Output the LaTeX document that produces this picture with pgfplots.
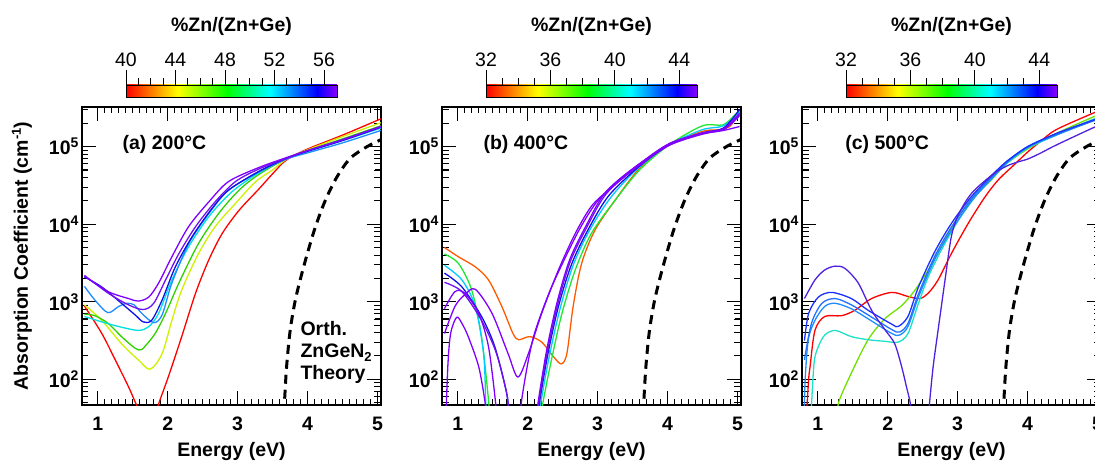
\documentclass[border=0pt]{standalone}
\usepackage{fontspec}
\setmainfont{Liberation Sans}
\usepackage{pgfplots}
\pgfplotsset{compat=1.18}
\newcommand\fs{\fontsize{19.5}{23}\selectfont}
\newcommand\ex[1]{\raisebox{7pt}{\fontsize{14}{14}\selectfont #1}}

\definecolor{cRed}{HTML}{FF0000}
\definecolor{cOrange}{HTML}{FF5A00}
\definecolor{cYellow}{HTML}{CFF000}
\definecolor{cGreen}{HTML}{30D000}
\definecolor{cGreenB}{HTML}{20E630}
\definecolor{cGreenC}{HTML}{70E000}
\definecolor{cCyan}{HTML}{00E0E0}
\definecolor{cCyanB}{HTML}{00CCFF}
\definecolor{cAqua}{HTML}{20E0C8}
\definecolor{cLBlue}{HTML}{1E8CFF}
\definecolor{cBlue}{HTML}{1010E8}
\definecolor{cBlueB}{HTML}{2070FF}
\definecolor{cBlueC}{HTML}{1A30FF}
\definecolor{cViolet}{HTML}{8000FF}
\definecolor{cVioletB}{HTML}{7010F0}
\definecolor{cIndigo}{HTML}{5020E0}

% rainbow used by the three colour bars
\pgfdeclarehorizontalshading{zn}{100bp}{rgb(0bp)=(1,0,0); rgb(25bp)=(1,0,0);
  rgb(37.25bp)=(1,1,0); rgb(49bp)=(0,1,0); rgb(59bp)=(0,1,1);
  rgb(70.25bp)=(0,0,1); rgb(75bp)=(0.55,0,1); rgb(100bp)=(0.55,0,1)}

\pgfplotsset{
  every semilogy axis/.append style={
    scale only axis, width=299pt, height=298pt, anchor=south west,
    xmin=0.775, xmax=5.05, ymin=46.6, ymax=3.25e5,
    xtick={1,2,3,4,5}, xticklabels={1,2,3,4,5}, minor x tick num=9,
    ytick={100,1000,10000,100000},
    yticklabels={10\ex{2},10\ex{3},10\ex{4},10\ex{5}},
    minor ytick={50,60,70,80,90,200,300,400,500,600,700,800,900,2000,3000,4000,5000,6000,7000,8000,9000,20000,30000,40000,50000,60000,70000,80000,90000,200000,300000},
    tick align=inside, major tick length=14pt, minor tick length=6.5pt,
    every tick/.style={black, line width=1.1pt},
    % tick marks on all four sides, drawn as short grid dashes at both ends
    xmajorgrids, ymajorgrids, xminorgrids, yminorgrids,
    major grid style={black, line width=1.1pt, dash pattern=on 14pt off 270.5pt on 14pt off 20pt},
    minor grid style={black, line width=0.9pt, dash pattern=on 6.5pt off 285.5pt on 6.5pt off 20pt},
    axis line style={line width=1.6pt},
    tick label style={font=\fs\bfseries},
    label style={font=\fs\bfseries},
    xticklabel style={anchor=base, yshift=-25pt},
    xlabel={Energy (eV)},
    xlabel style={at={(axis description cs:0.5,0)}, anchor=base, yshift=-51pt},
  },
  cbar/.style={
    scale only axis, width=211pt, height=12.7pt, anchor=south west,
    ymin=0, ymax=1, ytick=\empty,
    xtick pos=right, xticklabel pos=right,
    tick align=outside, major tick length=15pt, minor tick length=6.5pt,
    minor x tick num=3, axis on top,
    every tick/.style={black, line width=0.8pt},
    axis line style={line width=0.9pt},
    xticklabel style={font=\fs},
  },
  cv/.style={line width=1.3pt, smooth, mark=none, #1},
  theory/.style={black, line width=3pt, dash pattern=on 9pt off 6pt, smooth, mark=none},
}

\begin{document}
\begin{tikzpicture}

% ---------- (a) 200 C ----------
\begin{semilogyaxis}[at={(82pt,56pt)},
  ylabel={Absorption Coefficient (cm\raisebox{7pt}{\fontsize{13}{13}\selectfont -1})},
  ylabel style={at={(axis description cs:-0.2007,0.5)}, anchor=center}]
\addplot[cv=cRed] coordinates {(0.81,880)(1.058,390)(1.25,178)(1.44,80)(1.535,51)(1.59,40)};
\addplot[cv=cRed] coordinates {(1.84,38)(1.88,51)(2.01,108)(2.20,354)(2.40,1300)(2.59,3500)(2.78,7600)(3.02,15100)(3.3,28200)(3.5,44700)(3.7,67600)(4.0,93300)(4.5,141000)(5.05,229000)};
\addplot[cv=cYellow] coordinates {(0.81,912)(1.058,575)(1.34,288)(1.58,178)(1.75,135)(1.92,214)(2.06,575)(2.20,1410)(2.44,4170)(2.68,9330)(2.97,18600)(3.26,35500)(3.5,50100)(3.7,69200)(4.0,91200)(4.5,135000)(5.05,204000)};
\addplot[cv=cGreen] coordinates {(0.81,692)(0.96,661)(1.15,525)(1.34,355)(1.535,251)(1.62,240)(1.68,269)(1.82,389)(1.97,708)(2.16,1740)(2.44,5620)(2.73,13800)(3.02,27500)(3.3,43600)(3.7,70800)(4.0,89100)(4.5,126000)(5.05,186000)};
\addplot[cv=cCyan] coordinates {(0.81,646)(1.058,550)(1.30,479)(1.58,427)(1.73,479)(1.87,708)(2.06,1910)(2.30,5130)(2.59,12600)(2.92,26300)(3.3,45700)(3.7,70800)(4.0,87100)(4.5,120000)(5.05,174000)};
\addplot[cv=cLBlue] coordinates {(0.81,1580)(0.96,1050)(1.144,724)(1.30,871)(1.42,955)(1.52,912)(1.63,708)(1.80,537)(1.92,676)(2.06,1740)(2.30,5620)(2.59,13800)(2.87,27500)(3.3,46800)(3.7,69200)(4.0,83200)(4.5,112000)(5.05,162000)};
\addplot[cv=cBlue] coordinates {(0.81,2090)(1.058,1550)(1.34,955)(1.535,676)(1.65,550)(1.77,575)(1.92,1050)(2.11,2820)(2.35,6920)(2.63,15800)(2.87,27500)(3.3,47900)(3.7,70800)(4.0,87100)(4.5,120000)(5.05,178000)};
\addplot[cv=cVioletB] coordinates {(0.81,2190)(1.15,1290)(1.44,912)(1.65,794)(1.80,955)(1.97,1910)(2.16,4170)(2.40,9330)(2.68,19500)(2.97,35500)(3.3,51300)(3.7,70800)(4.0,89100)(4.5,123000)(5.05,182000)};
\addplot[cv=cViolet] coordinates {(0.81,2140)(1.15,1350)(1.44,1100)(1.58,1020)(1.73,1150)(1.87,1740)(2.06,3800)(2.30,9330)(2.59,19500)(2.87,35500)(3.3,53700)(3.7,72400)(4.0,89100)(4.5,123000)(5.05,182000)};
\addplot[theory] coordinates {(3.66,36)(3.67,51)(3.70,145)(3.75,417)(3.82,1000)(3.90,2000)(3.99,3980)(4.11,9120)(4.255,20400)(4.42,40700)(4.61,70800)(4.85,100000)(5.05,123000)};
\node[anchor=base west, font=\fs\bfseries] at (rel axis cs:0.124,0.856) {(a) 200°C};
\node[anchor=base west, font=\fs\bfseries] at (rel axis cs:0.719,0.232) {Orth.};
\node[anchor=base west, font=\fs\bfseries] at (rel axis cs:0.719,0.158) {ZnGeN\raisebox{-4pt}{\fontsize{13}{13}\selectfont 2}};
\node[anchor=base west, font=\fs\bfseries] at (rel axis cs:0.719,0.084) {Theory};
\end{semilogyaxis}

% ---------- (b) 400 C ----------
\begin{semilogyaxis}[at={(442pt,56pt)}]
\addplot[cv=cOrange] coordinates {(0.81,5010)(1.01,3800)(1.25,2820)(1.44,1910)(1.63,871)(1.79,389)(1.87,324)(2.03,355)(2.20,302)(2.37,195)(2.48,158)(2.56,214)(2.65,871)(2.77,3090)(2.96,8320)(3.25,20400)(3.6,52500)(4.03,107000)(4.5,158000)(4.75,166000)(4.9,186000)(5.03,282000)};
\addplot[cv=cGreenB] coordinates {(0.81,4120)(1.009,3130)(1.20,1410)(1.34,355)(1.44,54)(1.46,30)};
\addplot[cv=cGreenB] coordinates {(2.20,32)(2.22,51)(2.34,178)(2.49,708)(2.68,2570)(2.91,7590)(3.25,20400)(3.6,50100)(4.03,107000)(4.5,186000)(4.79,191000)(4.95,251000)(5.03,295000)};
\addplot[cv=cCyanB] coordinates {(0.81,2950)(1.06,1910)(1.25,871)(1.37,214)(1.40,51)(1.41,30)};
\addplot[cv=cCyanB] coordinates {(2.17,32)(2.19,51)(2.31,200)(2.46,794)(2.65,2950)(2.89,8510)(3.2,22900)(3.6,55000)(4.03,107000)(4.5,166000)(4.8,186000)(5.03,282000)};
\addplot[cv=cBlue] coordinates {(0.81,2340)(1.06,1550)(1.34,646)(1.53,263)(1.70,66)(1.73,35)};
\addplot[cv=cBlue] coordinates {(2.15,32)(2.17,51)(2.29,214)(2.44,871)(2.63,3090)(2.87,8710)(3.16,23400)(3.6,56200)(4.03,107000)(4.5,151000)(4.8,174000)(5.03,302000)};
\addplot[cv=cVioletB] coordinates {(0.81,1780)(1.06,1350)(1.34,575)(1.55,220)(1.70,66)(1.73,35)};
\addplot[cv=cVioletB] coordinates {(2.14,32)(2.16,51)(2.28,224)(2.43,933)(2.61,3310)(2.85,9330)(3.13,25100)(3.6,58900)(4.03,110000)(4.5,148000)(4.8,166000)(5.03,251000)};
\addplot[cv=cViolet] coordinates {(0.81,389)(0.96,871)(1.10,1230)(1.25,1450)(1.49,708)(1.72,214)(1.86,107)(2.01,214)(2.20,708)(2.44,2570)(2.68,7590)(2.91,17000)(3.15,27500)(3.3,37200)(3.6,60300)(4.03,105000)(4.5,145000)(4.8,162000)(5.03,182000)};
\addplot[cv=cViolet] coordinates {(0.81,813)(0.96,1350)(1.10,1290)(1.30,708)(1.44,263)(1.54,51)(1.555,30)};
\addplot[cv=cViolet] coordinates {(2.13,32)(2.15,51)(2.27,234)(2.42,977)(2.60,3470)(2.84,9770)(3.12,26300)(3.6,60300)(4.03,110000)(4.5,150000)(4.8,170000)(5.03,270000)};
\addplot[cv=cViolet] coordinates {(0.83,30)(0.86,158)(0.90,398)(0.985,631)(1.06,525)(1.15,355)(1.30,145)(1.39,51)(1.41,30)};
\addplot[cv=cViolet] coordinates {(1.90,32)(1.91,51)(2.0,158)(2.1,398)(2.3,1260)(2.5,3160)(2.75,8910)(3.0,20000)(3.3,35500)(3.6,57500)(4.03,105000)(4.5,150000)(4.8,168000)(5.03,260000)};
\addplot[theory] coordinates {(3.65,36)(3.66,51)(3.69,145)(3.74,417)(3.81,1000)(3.89,2000)(3.98,3980)(4.10,9120)(4.245,20400)(4.41,40700)(4.60,70800)(4.84,100000)(5.05,124000)};
\node[anchor=base west, font=\fs\bfseries] at (rel axis cs:0.127,0.856) {(b) 400°C};
\end{semilogyaxis}

% ---------- (c) 500 C ----------
\begin{semilogyaxis}[at={(802pt,56pt)}]
\addplot[cv=cRed] coordinates {(0.835,30)(0.87,100)(0.89,145)(0.96,427)(1.10,646)(1.34,661)(1.53,776)(1.77,1100)(2.06,1320)(2.29,1170)(2.46,1100)(2.58,1290)(2.72,1910)(2.91,4170)(3.15,10200)(3.39,22400)(3.58,37200)(3.8,57500)(4.0,85100)(4.2,120000)(4.41,166000)(4.93,269000)(5.05,295000)};
\addplot[cv=cGreenC] coordinates {(1.28,32)(1.30,51)(1.48,120)(1.72,324)(1.96,603)(2.20,891)(2.39,1410)(2.58,2570)(2.77,5130)(3.01,12600)(3.29,25100)(3.48,37200)(3.7,60300)(4.0,93300)(4.41,148000)(4.93,240000)(5.05,263000)};
\addplot[cv=cAqua] coordinates {(0.905,32)(0.913,51)(0.95,170)(1.008,263)(1.10,372)(1.25,427)(1.48,355)(1.72,324)(1.96,309)(2.15,302)(2.29,389)(2.44,955)(2.58,2090)(2.77,4680)(3.01,11200)(3.29,25100)(3.5,39800)(3.7,60300)(4.0,95500)(4.41,141000)(4.93,224000)(5.05,240000)};
\addplot[cv=cLBlue] coordinates {(0.805,32)(0.82,98)(0.865,324)(0.96,575)(1.10,871)(1.25,955)(1.48,813)(1.72,603)(2.06,389)(2.17,372)(2.29,479)(2.44,1150)(2.67,3470)(2.91,8320)(3.2,20000)(3.5,39800)(3.7,61700)(4.0,97700)(4.41,141000)(4.93,214000)(5.05,229000)};
\addplot[cv=cBlueB] coordinates {(0.81,178)(0.91,525)(1.06,955)(1.25,1100)(1.48,912)(1.72,676)(2.06,437)(2.17,407)(2.29,525)(2.44,1260)(2.67,3800)(2.91,9120)(3.2,21400)(3.5,41700)(3.7,63100)(4.0,100000)(4.41,145000)(4.93,214000)(5.05,229000)};
\addplot[cv=cBlueC] coordinates {(0.81,316)(0.87,708)(1.01,1150)(1.20,1320)(1.48,1100)(1.72,776)(2.06,513)(2.15,479)(2.29,646)(2.44,1550)(2.67,4370)(2.91,10200)(3.2,22900)(3.5,43700)(3.7,64600)(4.0,100000)(4.41,148000)(4.93,219000)(5.05,234000)};
\addplot[cv=cIndigo] coordinates {(0.81,1100)(0.96,1910)(1.10,2570)(1.25,2880)(1.39,2690)(1.58,1740)(1.77,776)(1.96,437)(2.10,288)(2.20,145)(2.27,79)(2.32,51)(2.34,35)};
\addplot[cv=cIndigo] coordinates {(2.585,32)(2.60,51)(2.65,145)(2.72,427)(2.82,1910)(2.91,6920)(3.01,13200)(3.2,25100)(3.5,43700)(3.7,56200)(3.85,63100)(4.0,69200)(4.17,81300)(4.41,105000)(4.93,174000)(5.05,191000)};
\addplot[theory] coordinates {(3.65,36)(3.66,51)(3.69,145)(3.74,417)(3.81,1000)(3.89,2000)(3.98,3980)(4.10,9120)(4.245,20400)(4.41,40700)(4.60,70800)(4.84,100000)(5.05,124000)};
\node[anchor=base west, font=\fs\bfseries] at (rel axis cs:0.133,0.856) {(c) 500°C};
\end{semilogyaxis}

% ---------- colour bars ----------
\begin{axis}[cbar, at={(126pt,363.3pt)}, xmin=40, xmax=57.05,
  xtick={40,44,48,52,56}, xticklabels={40,44,48,52,56}]
\shade[shading=zn] (rel axis cs:0,0) rectangle (rel axis cs:1,1);
\end{axis}
\begin{axis}[cbar, at={(486pt,363.3pt)}, xmin=32, xmax=45.1,
  xtick={32,36,40,44}, xticklabels={32,36,40,44}]
\shade[shading=zn] (rel axis cs:0,0) rectangle (rel axis cs:1,1);
\end{axis}
\begin{axis}[cbar, at={(846pt,363.3pt)}, xmin=32, xmax=45.1,
  xtick={32,36,40,44}, xticklabels={32,36,40,44}]
\shade[shading=zn] (rel axis cs:0,0) rectangle (rel axis cs:1,1);
\end{axis}

\node[anchor=base, font=\fs\bfseries] at (231.5pt,429pt) {\%Zn/(Zn+Ge)};
\node[anchor=base, font=\fs\bfseries] at (591.5pt,429pt) {\%Zn/(Zn+Ge)};
\node[anchor=base, font=\fs\bfseries] at (951.5pt,429pt) {\%Zn/(Zn+Ge)};

\pgfresetboundingbox
\path[use as bounding box] (0pt,0pt) rectangle (1095pt,461pt);
\end{tikzpicture}
\end{document}
